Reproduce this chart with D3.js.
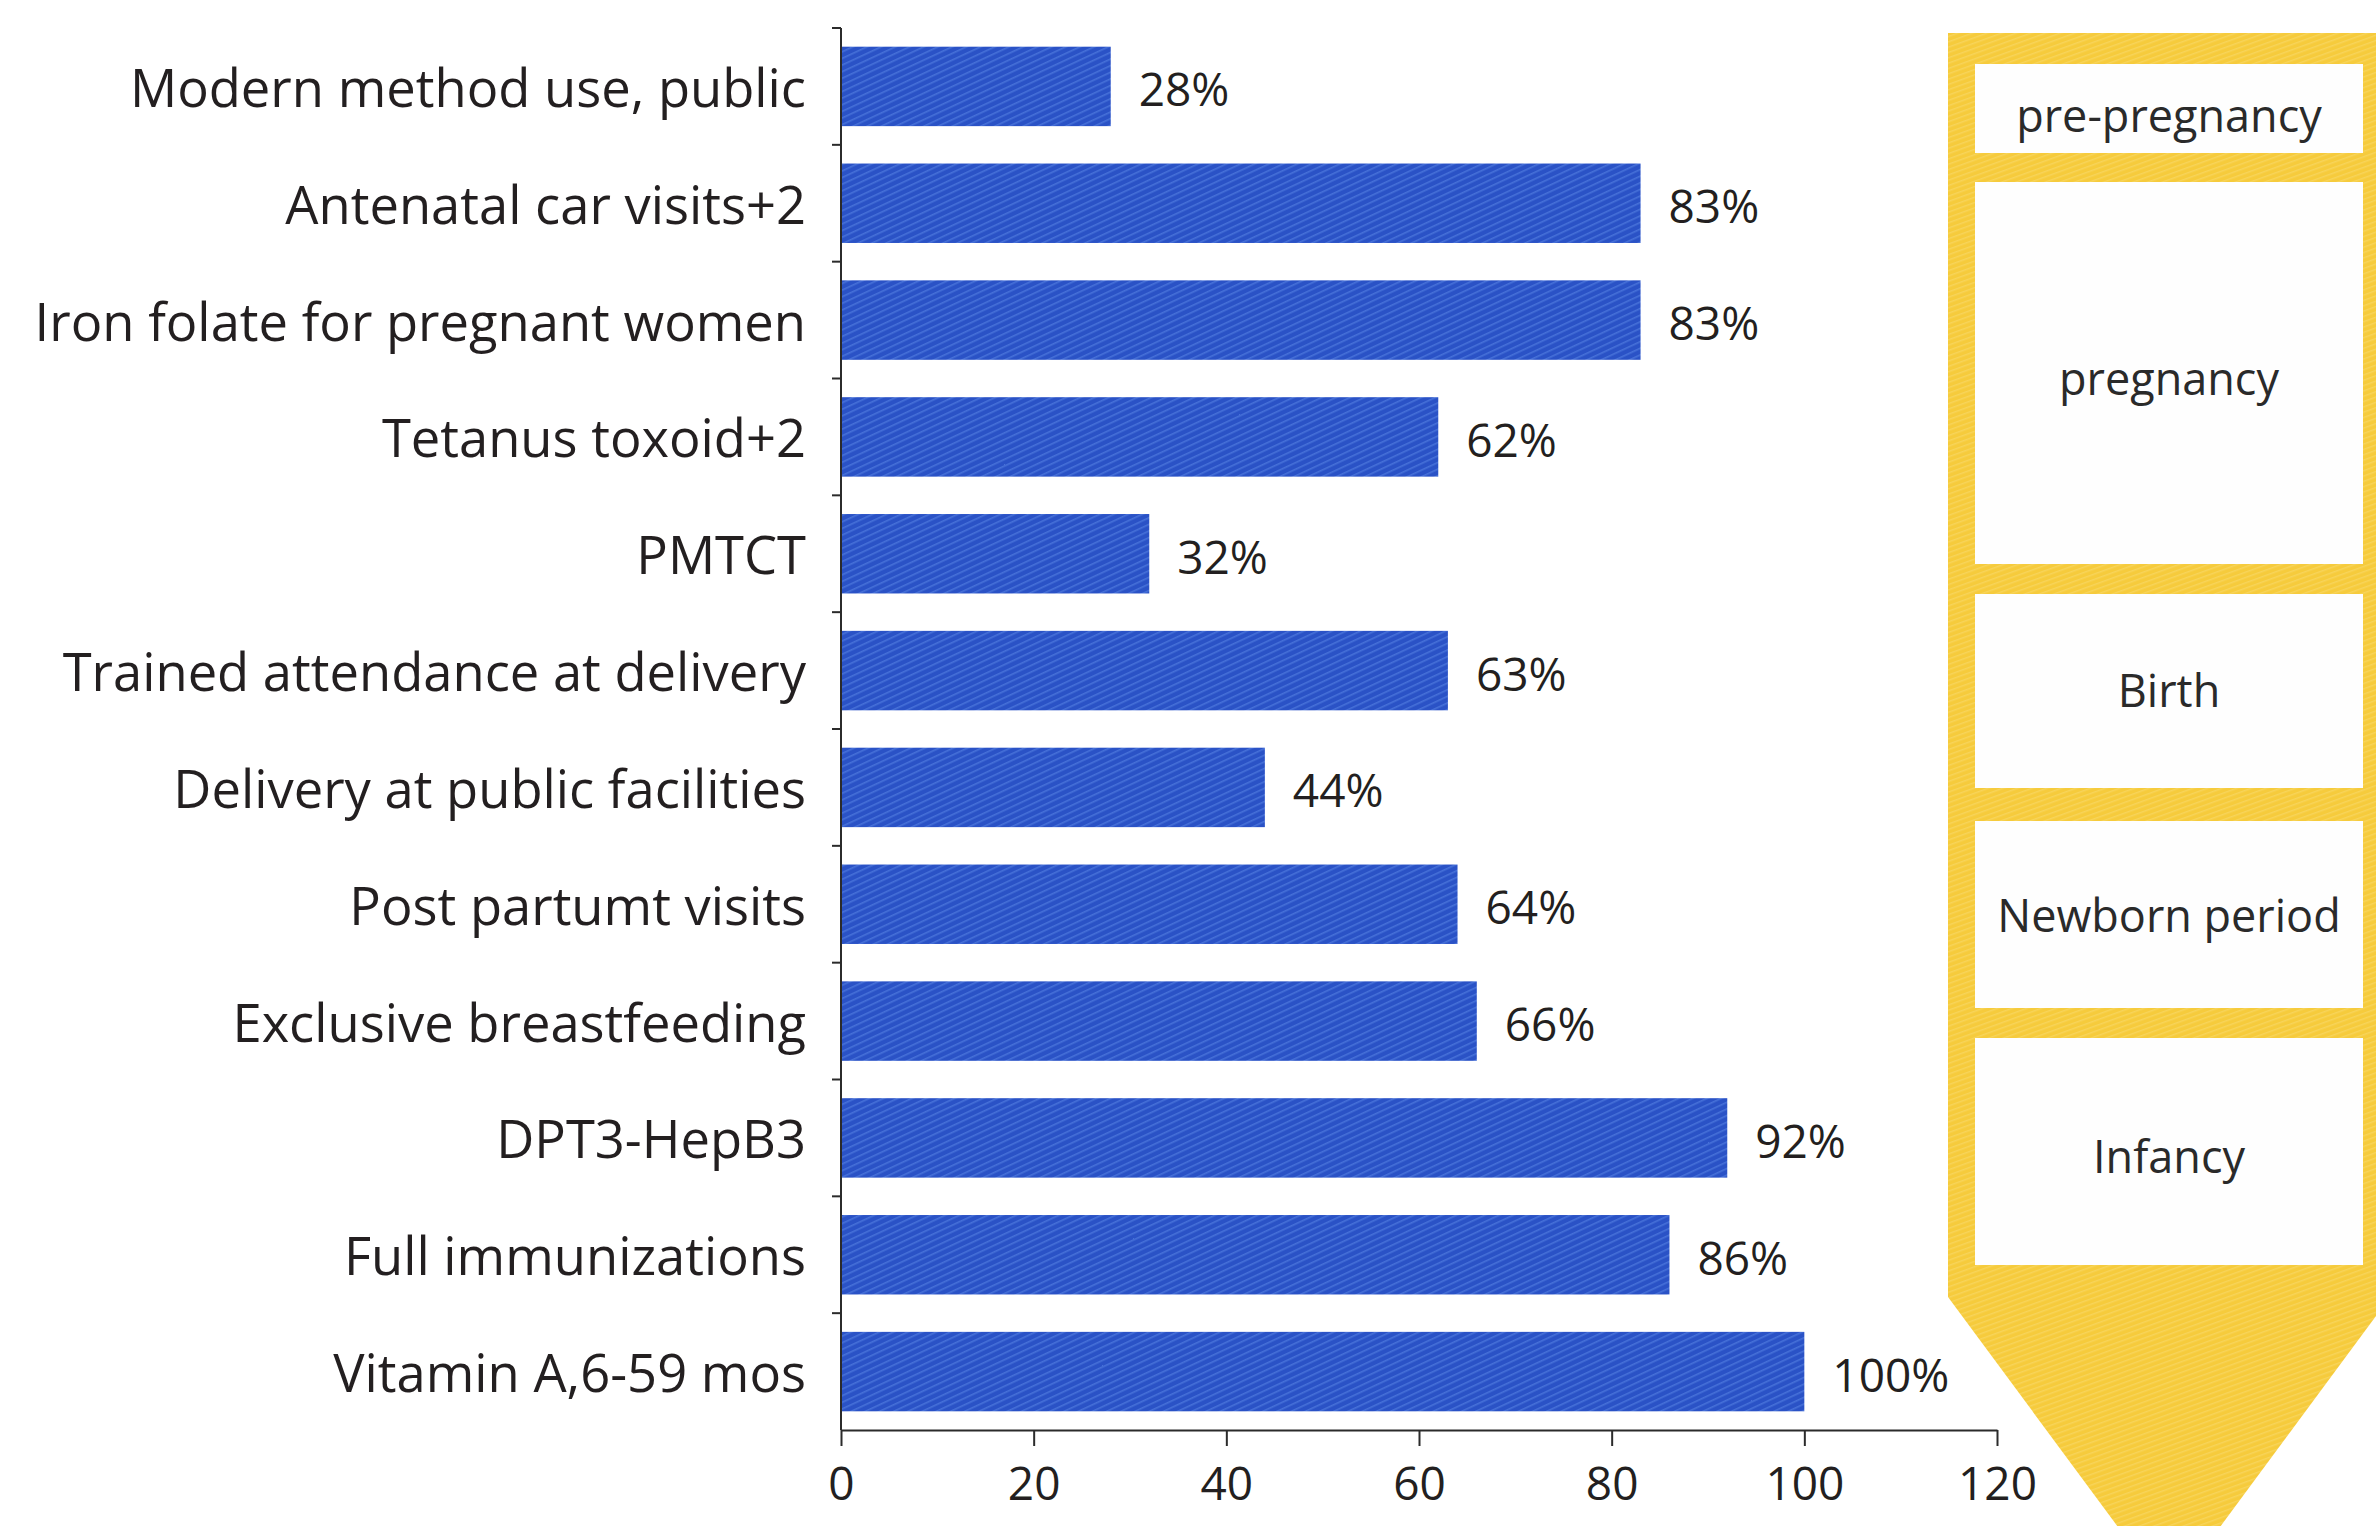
<!DOCTYPE html>
<html>
<head>
<meta charset="utf-8">
<script src="https://cdn.jsdelivr.net/npm/d3@7/dist/d3.min.js"></script>
<style>
  html, body { margin: 0; padding: 0; background: #ffffff; }
  svg { display: block; }
  text { font-family: "Open Sans", "Noto Sans", sans-serif; fill: #231f20; }
</style>
</head>
<body>
<script>
// Coverage of maternal, newborn and child health interventions
const categories = [
  "Modern method use, public",
  "Antenatal car visits+2",
  "Iron folate for pregnant women",
  "Tetanus toxoid+2",
  "PMTCT",
  "Trained attendance at delivery",
  "Delivery at public facilities",
  "Post partumt visits",
  "Exclusive breastfeeding",
  "DPT3-HepB3",
  "Full immunizations",
  "Vitamin A,6-59 mos"
];
const coverage = [28, 83, 83, 62, 32, 63, 44, 64, 66, 92, 86, 100];
const xTicks = [0, 20, 40, 60, 80, 100, 120];
const stages = ["pre-pregnancy", "pregnancy", "Birth", "Newborn period", "Infancy"];

(function draw() {
  const W = 2376, H = 1526;
  const svg = d3.select("body").append("svg")
    .attr("width", W).attr("height", H)
    .attr("viewBox", `0 0 ${W} ${H}`);

  // print-like texture for the filled shapes
  const defs = svg.append("defs");
  const bluePat = defs.append("pattern")
    .attr("id", "blueTex").attr("patternUnits", "userSpaceOnUse")
    .attr("width", 6).attr("height", 6)
    .attr("patternTransform", "rotate(-25)");
  bluePat.append("rect").attr("width", 6).attr("height", 6).attr("fill", "#2a52c6");
  bluePat.append("rect").attr("width", 6).attr("height", 1.6)
    .attr("fill", "#5d88e6").attr("opacity", 0.55);

  const yelPat = defs.append("pattern")
    .attr("id", "yelTex").attr("patternUnits", "userSpaceOnUse")
    .attr("width", 5).attr("height", 5)
    .attr("patternTransform", "rotate(-20)");
  yelPat.append("rect").attr("width", 5).attr("height", 5).attr("fill", "#f6cb3c");
  yelPat.append("rect").attr("width", 5).attr("height", 1.4)
    .attr("fill", "#f9db6e").attr("opacity", 0.6);

  // scales
  const x = d3.scaleLinear().domain([0, 120]).range([841, 1997]);
  const y = d3.scaleBand().domain(categories).range([28, 1430])
    .paddingInner(0.32).paddingOuter(0.16);

  // ---- stage arrow on the right ----
  const cx = 2169, halfW = 221, arrowTop = 33, shoulder = 1297, tipY = 1596;
  svg.append("path")
    .attr("d", d3.line()([
      [cx - halfW, arrowTop], [cx + halfW, arrowTop], [cx + halfW, shoulder],
      [cx, tipY], [cx - halfW, shoulder]
    ]) + "Z")
    .attr("fill", "url(#yelTex)");

  const boxHalf = 194;
  const boxSpans = [[64, 153], [182, 564], [594, 788], [821, 1008], [1038, 1265]];
  const labelShift = [6, 4, -2, 0, 4];
  const stageG = svg.append("g");
  stageG.selectAll("rect").data(stages).join("rect")
    .attr("x", cx - boxHalf).attr("width", boxHalf * 2)
    .attr("y", (d, i) => boxSpans[i][0])
    .attr("height", (d, i) => boxSpans[i][1] - boxSpans[i][0])
    .attr("fill", "#fefefe");
  stageG.selectAll("text").data(stages).join("text")
    .attr("x", cx)
    .attr("y", (d, i) => (boxSpans[i][0] + boxSpans[i][1]) / 2 + labelShift[i])
    .attr("text-anchor", "middle").attr("dominant-baseline", "central")
    .attr("font-size", 45)
    .style("fill", "#2a2a2a")
    .text(d => d);

  // ---- bars ----
  svg.append("g").selectAll("rect").data(categories).join("rect")
    .attr("x", x(0))
    .attr("y", d => y(d))
    .attr("width", (d, i) => x(coverage[i]) - x(0))
    .attr("height", y.bandwidth())
    .attr("fill", "url(#blueTex)");

  // value labels
  svg.append("g").selectAll("text").data(categories).join("text")
    .attr("x", (d, i) => x(coverage[i]) + 28)
    .attr("y", d => y(d) + y.bandwidth() / 2 + 2)
    .attr("dominant-baseline", "central")
    .attr("font-size", 46)
    .text((d, i) => coverage[i] + "%");

  // category labels
  svg.append("g").selectAll("text").data(categories).join("text")
    .attr("x", 806)
    .attr("y", d => y(d) + y.bandwidth() / 2)
    .attr("text-anchor", "end")
    .attr("dominant-baseline", "central")
    .attr("font-size", 52.5)
    .text(d => d);

  // ---- axes ----
  const axisColor = "#2b2b2b";
  const yBottom = y.range()[1];
  // vertical axis with ticks at the band boundaries
  const gap = y.step() * y.paddingInner() / 2;
  const boundaries = categories.map(c => y(c) - gap);
  svg.append("line")
    .attr("x1", x(0)).attr("x2", x(0))
    .attr("y1", y.range()[0]).attr("y2", yBottom)
    .attr("stroke", axisColor).attr("stroke-width", 2);
  svg.append("g").selectAll("line").data(boundaries).join("line")
    .attr("x1", x(0) - 9).attr("x2", x(0))
    .attr("y1", d => d).attr("y2", d => d)
    .attr("stroke", axisColor).attr("stroke-width", 2);

  // horizontal axis
  const xAxis = d3.axisBottom(x).tickValues(xTicks).tickSize(16).tickPadding(21)
    .tickSizeOuter(0).tickFormat(d3.format("d"));
  const gx = svg.append("g").attr("transform", `translate(0,${yBottom})`).call(xAxis);
  gx.select(".domain").attr("stroke", axisColor).attr("stroke-width", 2);
  gx.selectAll(".tick line").attr("stroke", axisColor).attr("stroke-width", 2);
  gx.selectAll(".tick text")
    .attr("font-size", 46)
    .attr("font-family", "'Open Sans', 'Noto Sans', sans-serif")
    .style("fill", "#231f20");
})();
</script>
</body>
</html>
